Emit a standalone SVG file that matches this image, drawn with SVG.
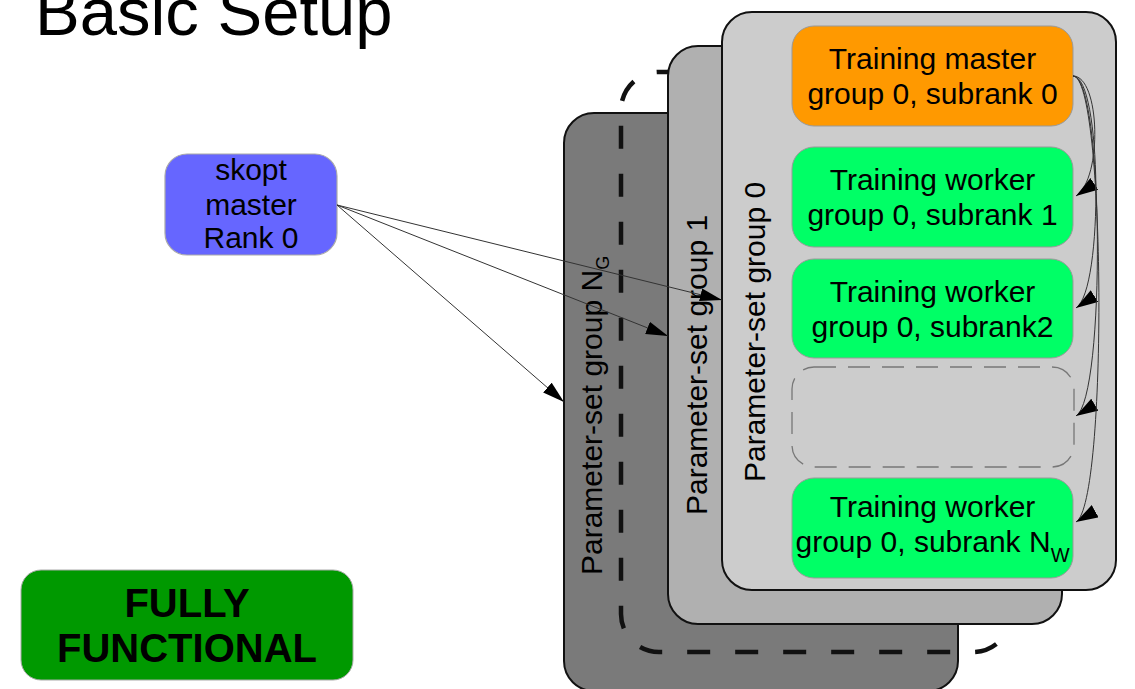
<svg xmlns="http://www.w3.org/2000/svg" width="1135" height="689" viewBox="0 0 1135 689">
<style>
text{font-family:"Liberation Sans",Arial,sans-serif;fill:#000}
.t30{font-size:30px;text-anchor:middle}
.rot{font-size:30px}
.card{stroke:#111;stroke-width:2}
.box{stroke:#999;stroke-width:1}
.conn{fill:none;stroke:#333;stroke-width:1}
</style>
<defs>
<marker id="ah" markerUnits="userSpaceOnUse" markerWidth="24" markerHeight="14" refX="22" refY="6.5" orient="auto">
<path d="M0,0 L22,6.5 L0,13 z" fill="#000"/>
</marker>
<marker id="ah2" markerUnits="userSpaceOnUse" markerWidth="24" markerHeight="16" refX="22" refY="7" orient="auto">
<path d="M0,0 L22,7 L0,14 z" fill="#000"/>
</marker>
</defs>
<rect width="1135" height="689" fill="#fff"/>
<text x="35" y="35" style="font-size:67px">Basic Setup</text>

<g id="group-NG">
<rect class="card" x="564" y="113" width="394" height="578" rx="30" fill="#7a7a7a"/>
<text class="rot" transform="translate(602,575) rotate(-90)">Parameter-set group N<tspan font-size="18" dy="7">G</tspan></text>
</g>
<g id="group-dashed">
<rect x="621" y="72" width="390" height="580" rx="38" fill="none" stroke="#111" stroke-width="4.5" stroke-dasharray="23 25"/>
</g>
<g id="group-1">
<rect class="card" x="668" y="46" width="394" height="578" rx="30" fill="#b0b0b0"/>
<text class="rot" transform="translate(707,515) rotate(-90)">Parameter-set group 1</text>
</g>
<g id="group-0">
<rect class="card" x="722" y="12" width="394" height="578" rx="30" fill="#cccccc"/>
<text class="rot" transform="translate(765,482) rotate(-90)">Parameter-set group 0</text>
</g>

<g id="training-master">
<rect class="box" x="792" y="26" width="281" height="100" rx="22" fill="#ff9900"/>
<text class="t30" x="932.5" y="69">Training master</text>
<text class="t30" x="932.5" y="104">group 0, subrank 0</text>
</g>
<g id="worker-1">
<rect class="box" x="792" y="147" width="281" height="100" rx="22" fill="#00ff66"/>
<text class="t30" x="932.5" y="190">Training worker</text>
<text class="t30" x="932.5" y="225">group 0, subrank 1</text>
</g>
<g id="worker-2">
<rect class="box" x="792" y="259" width="281" height="99" rx="22" fill="#00ff66"/>
<text class="t30" x="932.5" y="302">Training worker</text>
<text class="t30" x="932.5" y="337">group 0, subrank2</text>
</g>
<g id="worker-placeholder">
<rect x="792" y="367" width="282" height="100" rx="22" fill="none" stroke="#777" stroke-width="1.3" stroke-dasharray="22 12"/>
</g>
<g id="worker-NW">
<rect class="box" x="792" y="478" width="281" height="100" rx="22" fill="#00ff66"/>
<text class="t30" x="932.5" y="517">Training worker</text>
<text class="t30" x="932.5" y="552">group 0, subrank N<tspan font-size="20" dy="10">W</tspan></text>
</g>

<g id="skopt-master">
<rect x="165" y="154" width="172" height="101" rx="22" fill="#6666ff" stroke="#aaa" stroke-width="1.2"/>
<text class="t30" x="251" y="180">skopt</text>
<text class="t30" x="251" y="215">master</text>
<text class="t30" x="251" y="248">Rank 0</text>
</g>

<g id="fully-functional">
<rect x="21" y="570" width="332" height="110" rx="20" fill="#009900" stroke="#aaa" stroke-width="1"/>
<text x="187" y="617" style="font-size:40px;font-weight:bold;text-anchor:middle">FULLY</text>
<text x="187" y="662" style="font-size:40px;font-weight:bold;text-anchor:middle">FUNCTIONAL</text>
</g>

<g id="connectors">
<path class="conn" d="M337,205 L722,300" marker-end="url(#ah)"/>
<path class="conn" d="M337,205 L668,336" marker-end="url(#ah)"/>
<path class="conn" d="M337,205 L564,402" marker-end="url(#ah)"/>
<path class="conn" stroke="#000" d="M1073,76 C1100,76 1103,178 1076,196" marker-end="url(#ah2)"/>
<path class="conn" stroke="#000" d="M1073,76 C1102,76 1104,290 1076,308" marker-end="url(#ah2)"/>
<path class="conn" stroke="#000" d="M1073,76 C1104,76 1106,398 1076,416" marker-end="url(#ah2)"/>
<path class="conn" stroke="#000" d="M1073,76 C1106,76 1108,504 1076,522" marker-end="url(#ah2)"/>
</g>
</svg>
